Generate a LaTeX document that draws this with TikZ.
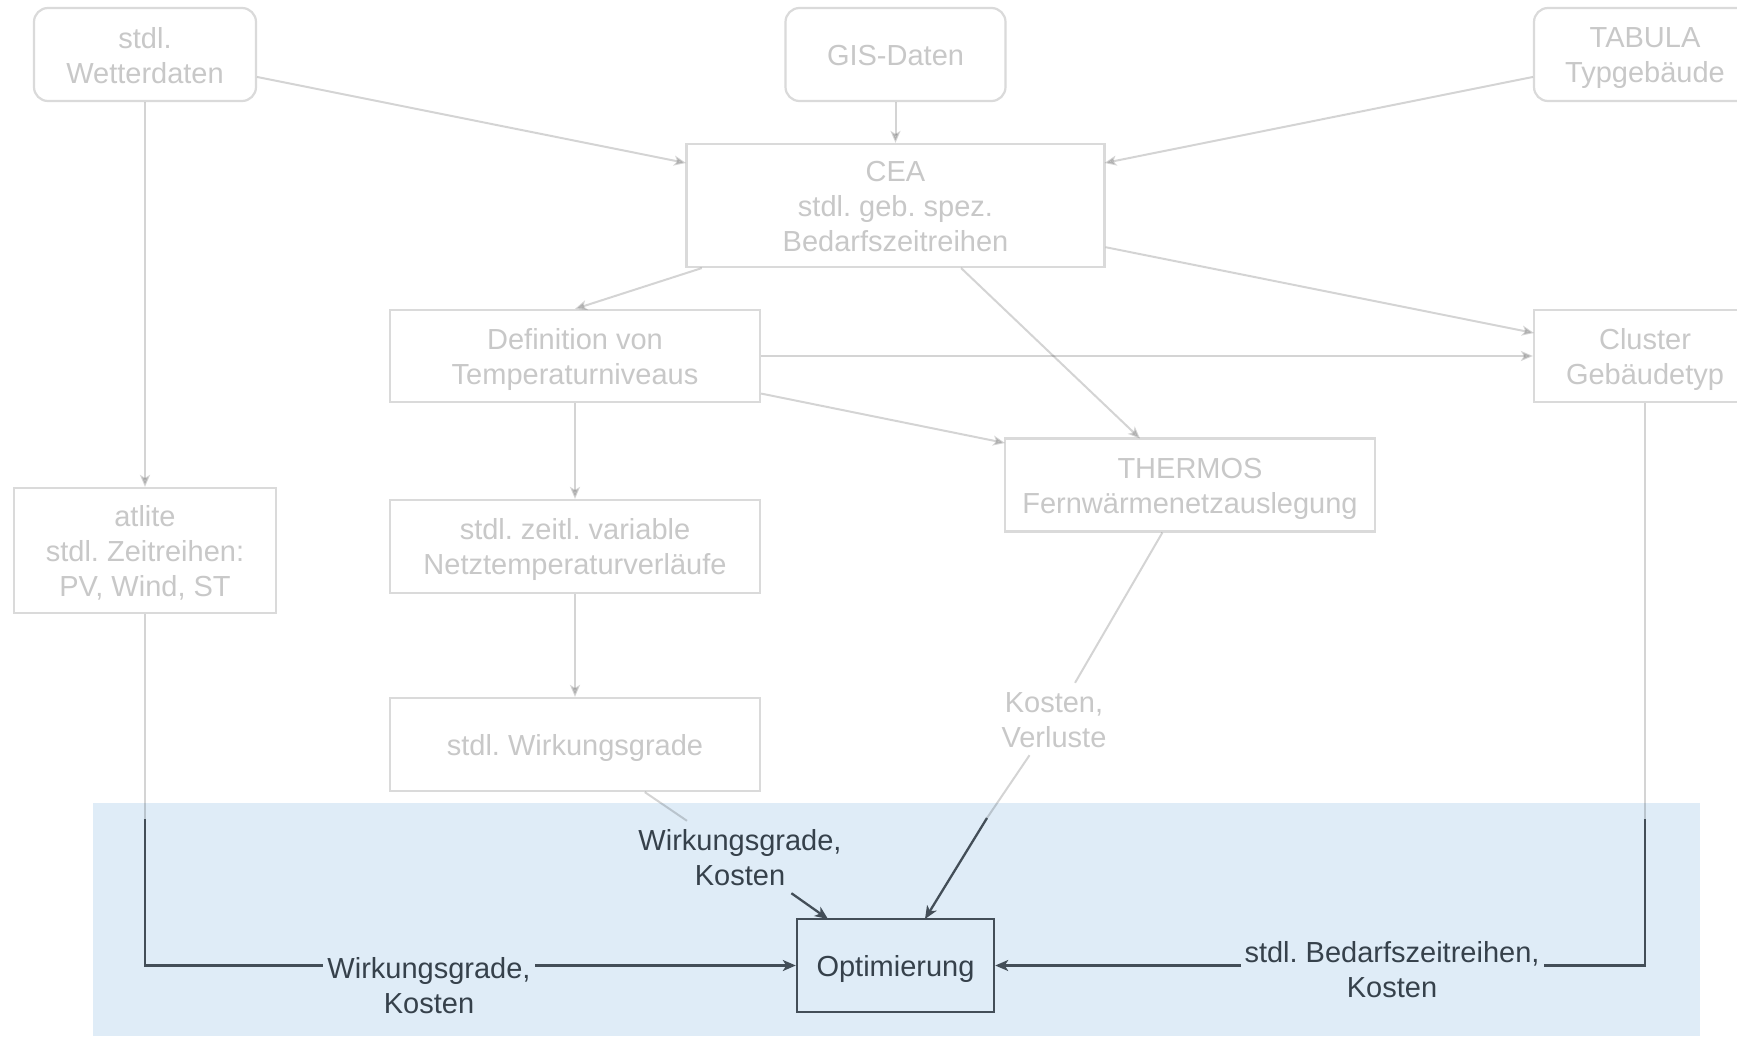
\documentclass[tikz,border=0pt]{standalone}
\usepackage{fontspec}
\setmainfont{Liberation Sans}
\usetikzlibrary{arrows.meta}
\definecolor{bgblue}{HTML}{DFECF7}
\definecolor{dktext}{HTML}{36414B}
\definecolor{dkline}{HTML}{434E58}
\definecolor{fadetext}{HTML}{C8C8C8}
\definecolor{fadebox}{HTML}{DADADA}
\newcommand\mylinestrut{\rule[-6pt]{0pt}{34pt}}
\newcommand\ms{\mylinestrut}
\frenchspacing
\begin{document}
\begin{tikzpicture}[x=1pt,y=-1pt,
  every node/.style={font=\fontsize{29}{35}\selectfont\frenchspacing, align=center, inner sep=0pt,
    execute at end node=\mylinestrut},
  fbox/.style={draw=fadebox, line width=2.2pt, fill=white, text=fadetext},
  frbox/.style={fbox, rounded corners=14pt},
  dbox/.style={draw=dkline, line width=2.4pt, fill=bgblue, text=dktext},
  fl/.style={draw=black, opacity=0.17, line width=2pt},
  fa/.style={fl, -{Stealth[length=12pt,width=10pt,inset=3pt]}},
  dl/.style={draw=dkline, line width=2.3pt},
  da/.style={dl, -{Stealth[length=13pt,width=11pt,inset=3.5pt]}},
  dlabel/.style={fill=bgblue, text=dktext, inner xsep=4pt, inner ysep=1.5pt},
  flabel/.style={fill=white, text=fadetext, inner xsep=4pt, inner ysep=1.5pt}
]
\useasboundingbox (0,0) rectangle (1737,1036);
\fill[white] (0,0) rectangle (1737,1036);
\fill[bgblue] (93,803) rectangle (1700,1036);

% boxes
\node[frbox, minimum width=222pt, minimum height=93pt] (wd) at (145,54.5) {\ms stdl.\\Wetterdaten};
\node[frbox, minimum width=220pt, minimum height=93pt] (gis) at (895.5,54.5) {\ms GIS-Daten};
\node[frbox, minimum width=222pt, minimum height=93pt] (tab) at (1645,54.5) {\ms TABULA\\Typgebäude};
\node[fbox, minimum width=418pt, minimum height=123pt] (cea) at (895.5,205.5) {\ms CEA\\stdl. geb. spez.\\Bedarfszeitreihen};
\node[fbox, minimum width=370pt, minimum height=92pt] (def) at (575,356) {\ms Definition von\\Temperaturniveaus};
\node[fbox, minimum width=222pt, minimum height=92pt] (cl) at (1645,356) {\ms Cluster\\Gebäudetyp};
\node[fbox, minimum width=370pt, minimum height=93pt] (th) at (1190,485) {\ms THERMOS\\Fernwärmenetzauslegung};
\node[fbox, minimum width=262pt, minimum height=125pt] (at) at (145,550.5) {\ms atlite\\stdl. Zeitreihen:\\PV, Wind, ST};
\node[fbox, minimum width=370pt, minimum height=93pt] (zt) at (575,546.5) {\ms stdl. zeitl. variable\\Netztemperaturverläufe};
\node[fbox, minimum width=370pt, minimum height=93pt] (wg) at (575,744.5) {\ms stdl. Wirkungsgrade};
\node[dbox, minimum width=197pt, minimum height=93pt] (opt) at (895.5,965.5) {\ms Optimierung};

% helper coordinates
\coordinate (ceaL) at (686,163);
\coordinate (ceaR) at (1104.5,163);
\coordinate (thT) at (1140,438.5);
\coordinate (thL) at (1005,443);
\coordinate (clL) at (1534,333);
\coordinate (k1) at (145,819);
\coordinate (k2) at (1645,819);
\coordinate (optA) at (828,919);
\coordinate (optB) at (925,919);
\coordinate (k4) at (987,818);

% faded connectors
\draw[fa] (wd) -- (at);
\draw[fa] (wd) -- (ceaL);
\draw[fa] (gis) -- (cea);
\draw[fa] (tab) -- (ceaR);
\draw[fa] (cea) -- (def.north);
\draw[fa] (cea) -- (thT);
\draw[fa] (cea) -- (clL);
\draw[fa] (def) -- (cl);
\draw[fa] (def) -- (thL);
\draw[fa] (def) -- (zt);
\draw[fa] (zt) -- (wg);

% connectors into Optimierung
\draw[fl] (at) -- (k1);
\draw[da] (k1) |- (opt);
\node[dlabel] (l1) at (429,985) {\ms Wirkungsgrade,\\Kosten};

\draw[fl] (cl) -- (k2);
\draw[da] (k2) |- (opt);
\node[dlabel] (l2) at (1392,969) {\ms stdl. Bedarfszeitreihen,\\Kosten};

\node[dlabel] (l3) at (740,857) {\ms Wirkungsgrade,\\Kosten};
\draw[fl] (wg) -- (l3);
\draw[da] (l3) -- (optA);

\node[flabel] (l4) at (1054,719) {\ms Kosten,\\Verluste};
\draw[fl] (th) -- (l4);
\draw[fl] (l4) -- (k4);
\draw[da] (k4) -- (optB);
\end{tikzpicture}
\end{document}
